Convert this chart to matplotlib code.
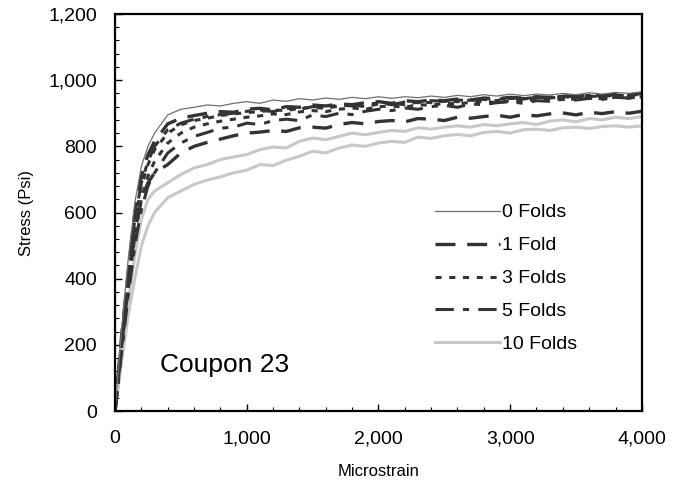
import matplotlib.pyplot as plt
from matplotlib.ticker import MultipleLocator, FuncFormatter

plt.rcParams['font.family'] = ['Liberation Sans', 'DejaVu Sans']

# strain (microstrain) shared by all curves
strain = [0, 50, 100, 150, 200, 250, 300, 400, 500, 600, 700, 800, 900, 1000,
          1100, 1200, 1300, 1400, 1500, 1600, 1700, 1800, 1900, 2000, 2100, 2200,
          2300, 2400, 2500, 2600, 2700, 2800, 2900, 3000, 3100, 3200, 3300, 3400,
          3500, 3600, 3700, 3800, 3900, 4000]

# stress (psi), two coupons per fold count except 0 folds
zero_a = [0, 250, 460, 630, 740, 800, 840, 895, 912, 918, 925, 922, 930, 935,
          930, 940, 936, 944, 940, 946, 942, 948, 944, 950, 945, 950, 947, 952,
          948, 954, 950, 956, 952, 958, 953, 958, 955, 960, 956, 962, 958, 963,
          960, 965]
one_a = [0, 230, 420, 600, 710, 775, 815, 868, 885, 893, 900, 905, 903, 912,
         915, 910, 920, 918, 925, 922, 928, 926, 932, 935, 930, 938, 935, 940,
         938, 943, 940, 946, 944, 948, 946, 950, 948, 953, 950, 955, 952, 958,
         955, 960]
one_b = [0, 200, 380, 540, 640, 690, 720, 745, 780, 800, 812, 822, 832, 840,
         843, 848, 845, 856, 858, 855, 866, 872, 868, 875, 878, 874, 884, 882,
         878, 888, 885, 890, 894, 888, 896, 892, 898, 901, 895, 903, 899, 905,
         900, 906]
three_a = [0, 210, 400, 570, 680, 745, 790, 840, 865, 878, 885, 893, 898, 902,
           905, 910, 908, 915, 918, 915, 922, 925, 920, 928, 930, 926, 934, 932,
           938, 935, 940, 942, 938, 945, 943, 948, 946, 950, 948, 952, 950, 955,
           953, 958]
three_b = [0, 190, 370, 530, 640, 710, 755, 810, 840, 858, 868, 876, 882, 888,
           892, 898, 896, 904, 908, 905, 912, 916, 912, 920, 922, 918, 926, 924,
           930, 928, 933, 936, 932, 938, 936, 942, 940, 944, 942, 946, 944, 948,
           946, 950]
five_a = [0, 220, 410, 580, 690, 755, 800, 850, 870, 882, 890, 896, 900, 906,
          910, 905, 915, 912, 920, 918, 925, 922, 928, 930, 926, 934, 932, 938,
          936, 940, 938, 944, 942, 946, 944, 948, 946, 952, 950, 954, 952, 956,
          955, 962]
five_b = [0, 180, 350, 500, 610, 680, 720, 780, 810, 830, 842, 855, 858, 870,
          866, 878, 882, 878, 895, 890, 900, 896, 906, 912, 908, 916, 912, 920,
          924, 918, 928, 926, 932, 935, 930, 938, 936, 942, 940, 945, 942, 948,
          946, 950]
ten_a = [0, 170, 330, 470, 580, 640, 665, 690, 715, 735, 745, 760, 768, 775,
         790, 798, 795, 815, 825, 820, 830, 840, 835, 842, 848, 845, 856, 852,
         858, 862, 858, 866, 862, 868, 872, 866, 876, 880, 874, 884, 880, 888,
         884, 890]
ten_b = [0, 150, 290, 400, 500, 560, 600, 645, 665, 685, 698, 708, 720, 728,
         745, 742, 758, 770, 785, 780, 795, 804, 800, 810, 815, 812, 828, 824,
         832, 836, 832, 842, 845, 840, 850, 852, 848, 856, 858, 854, 860, 862,
         858, 862]

fig = plt.figure(figsize=(6.85, 4.93), dpi=100)
ax = fig.add_axes([0.168, 0.1663, 0.769, 0.8053])

dark = '#333333'
ax.plot(strain, ten_b, color='#c8c8c8', lw=2.2)
ax.plot(strain, ten_a, color='#c8c8c8', lw=2.2, label='10 Folds')
ax.plot(strain, five_b, color=dark, lw=2.2, ls=(0, (6, 3, 2, 3)))
ax.plot(strain, five_a, color=dark, lw=2.2, ls=(0, (6, 3, 2, 3)), label='5 Folds')
ax.plot(strain, three_b, color=dark, lw=2.2, ls=(0, (2, 2.5)))
ax.plot(strain, three_a, color=dark, lw=2.2, ls=(0, (2, 2.5)), label='3 Folds')
ax.plot(strain, one_b, color=dark, lw=2.4, ls=(0, (6, 3.5)))
ax.plot(strain, one_a, color=dark, lw=2.4, ls=(0, (6, 3.5)), label='1 Fold')
ax.plot(strain, zero_a, color='#707070', lw=0.9, label='0 Folds')

ax.set_xlim(0, 4000)
ax.set_ylim(0, 1200)
ax.xaxis.set_major_locator(MultipleLocator(1000))
ax.xaxis.set_minor_locator(MultipleLocator(200))
ax.yaxis.set_major_locator(MultipleLocator(200))
ax.yaxis.set_minor_locator(MultipleLocator(40))
fmt = FuncFormatter(lambda v, p: f'{v:,.0f}')
ax.xaxis.set_major_formatter(fmt)
ax.yaxis.set_major_formatter(fmt)
ax.tick_params(which='both', direction='in', labelsize=14, top=False, right=False)
ax.tick_params(which='major', length=5, width=1)
ax.tick_params(which='minor', length=3, width=0.8)
ax.tick_params(axis='x', which='major', pad=14)
ax.tick_params(axis='y', which='major', pad=13)
for s in ax.spines.values():
    s.set_linewidth(1.6)

ax.set_xlabel('Microstrain', fontsize=12, labelpad=12)
ax.set_ylabel('Stress (Psi)', fontsize=12, labelpad=10)
ax.text(340, 118, 'Coupon 23', fontsize=19)

h, l = ax.get_legend_handles_labels()
ax.legend(h[::-1], l[::-1], loc='upper left', bbox_to_anchor=(0.608, 0.522),
          frameon=False, fontsize=14, handlelength=3.3, handletextpad=0.15,
          labelspacing=0.79, borderpad=0, borderaxespad=0)

fig.savefig('out.png', dpi=100)
